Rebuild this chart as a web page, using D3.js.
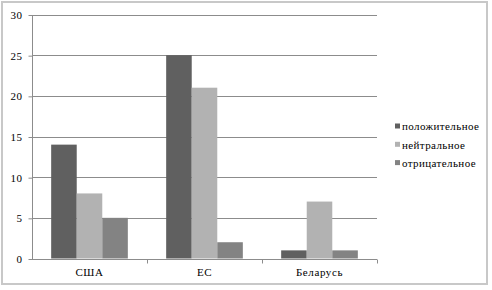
<!DOCTYPE html>
<html><head><meta charset="utf-8">
<script src="https://cdn.jsdelivr.net/npm/d3@7"></script>
<style>body{margin:0;background:#fff}svg{display:block}</style>
</head><body>
<script>
const categories = ["США", "ЕС", "Беларусь"];
const seriesNames = ["положительное", "нейтральное", "отрицательное"];
const positive = [14, 25, 1];
const neutral = [8, 21, 7];
const negative = [5, 2, 1];
const yTicks = [0, 5, 10, 15, 20, 25, 30];
const colors = ["#606060", "#b2b2b2", "#838383"];
const seriesValues = [positive, neutral, negative];

(function () {
const W = 492, H = 290;
const svg = d3.select("body").append("svg").attr("width", W).attr("height", H);
const FONT = '"Liberation Serif"';
const styleText = sel => sel.attr("font-family", null).style("font-family", FONT).style("font-size", "11px").style("fill", "#000");

svg.append("rect").attr("x", 2).attr("y", 2).attr("width", 485).attr("height", 282)
  .attr("fill", "#fff").attr("stroke", "#c8c8c8").attr("stroke-width", 2);

const pl = 32, pr = 377, pt = 14.5, pb = 258.5;
const x = d3.scaleBand().domain(categories).range([pl, pr]).paddingInner(0).paddingOuter(0);
const y = d3.scaleLinear().domain([0, 30]).range([pb, pt]);
const inner = d3.scaleBand().domain(d3.range(3)).range([0, x.bandwidth()]).paddingInner(0).paddingOuter(0.75);

// gridlines
svg.append("g").selectAll("line").data(yTicks.filter(d => d > 0)).join("line")
  .attr("x1", pl).attr("x2", pr)
  .attr("y1", d => Math.round(y(d)) + 0.5).attr("y2", d => Math.round(y(d)) + 0.5)
  .attr("stroke", "#8c8c8c").attr("stroke-width", 1);

// bars
categories.forEach((c, ci) => {
  seriesValues.forEach((vals, si) => {
    svg.append("rect")
      .attr("x", x(c) + inner(si))
      .attr("width", inner.bandwidth())
      .attr("y", y(vals[ci]))
      .attr("height", y(0) - y(vals[ci]))
      .attr("fill", colors[si]);
  });
});

// y axis
const yAxis = d3.axisLeft(y).tickValues(yTicks).tickSize(4).tickPadding(6);
const gy = svg.append("g").attr("transform", `translate(${pl + 0.5},0.5)`).call(yAxis);
gy.attr("font-family", null).style("font-family", FONT);
gy.select(".domain").attr("stroke", "#8c8c8c").attr("d", `M0,${pt}V${pb}`);
gy.selectAll(".tick line").attr("stroke", "#8c8c8c");
gy.selectAll(".tick text").call(styleText).style("letter-spacing", "0.5px");

// x axis
const xAxis = d3.axisBottom(x).tickSize(0).tickPadding(9);
const gx = svg.append("g").attr("transform", `translate(0,${Math.round(pb) + 0.5})`).call(xAxis);
gx.attr("font-family", null).style("font-family", FONT);
gx.select(".domain").attr("stroke", "#8c8c8c").attr("d", `M${pl},0H${pr}`);
gx.selectAll(".tick text").call(styleText).style("letter-spacing", "0.6px");
gx.selectAll("line.sep").data(categories).join("line").attr("class", "sep")
  .attr("x1", d => Math.round(x(d) + x.bandwidth()) + 0.5).attr("x2", d => Math.round(x(d) + x.bandwidth()) + 0.5)
  .attr("y1", 0).attr("y2", 4).attr("stroke", "#8c8c8c");

// legend
const lg = svg.append("g");
seriesNames.forEach((n, i) => {
  const ly = 126.5 + i * 18.3;
  lg.append("rect").attr("x", 395).attr("y", ly - 3).attr("width", 5).attr("height", 5).attr("fill", colors[i]);
  lg.append("text").attr("x", 402).attr("y", ly).attr("dy", "0.35em").call(styleText)
    .style("letter-spacing", "0.4px").text(n);
});
})();
</script>
</body></html>
